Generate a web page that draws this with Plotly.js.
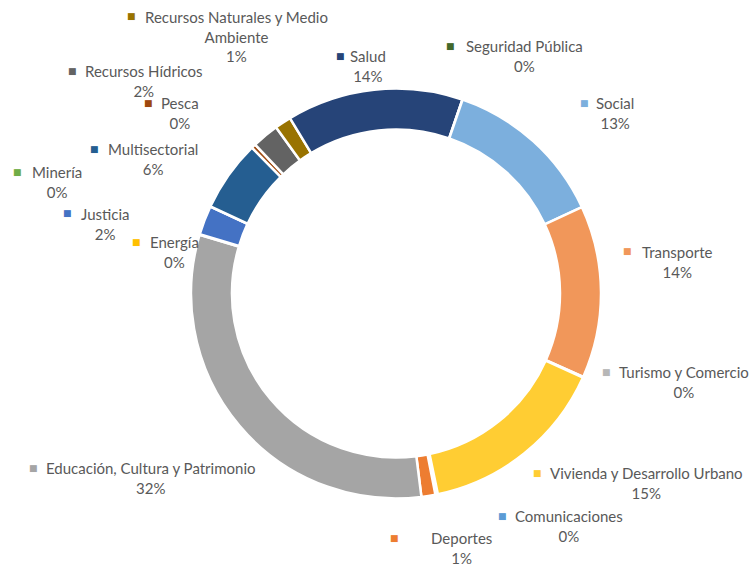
<!DOCTYPE html>
<html>
<head>
<meta charset="utf-8">
<script src="https://cdn.plot.ly/plotly-3.0.1.min.js"></script>
<style>html,body{margin:0;padding:0;background:#fff;}#chart{width:751px;height:565px;}</style>
</head>
<body>
<div id="chart"></div>
<script>
// Data (alphabetical order, as in the source series)
const categories = [
  "Comunicaciones", "Deportes", "Educación, Cultura y Patrimonio", "Energía",
  "Justicia", "Minería", "Multisectorial", "Pesca", "Recursos Hídricos",
  "Recursos Naturales y Medio Ambiente", "Salud", "Seguridad Pública", "Social",
  "Transporte", "Turismo y Comercio", "Vivienda y Desarrollo Urbano"
];
const shares = [0.2, 1.1, 31.6, 0.05, 2.3, 0.02, 5.6, 0.35, 2.1, 1.3, 13.9, 0.02, 12.8, 13.6, 0.05, 15.0];

// Styles
const sliceColors = [
  "#5B9BD5", "#ED7D31", "#A5A5A5", "#FFC000", "#4472C4", "#70AD47", "#255E91", "#9E480E",
  "#636363", "#997300", "#264478", "#43682B", "#7CAFDD", "#F1975A", "#B7B7B7", "#FFCD33"
];
// Label display text (line-broken names) and their placement (pixels: text centre, key square)
const labelLines = {
  "Recursos Naturales y Medio Ambiente": "Recursos Naturales y Medio<br>Ambiente"
};
const labelPos = {
  "Comunicaciones": {cx: 569, cy: 526, kx: 502, ky: 516},
  "Deportes": {cx: 461, cy: 548, kx: 394, ky: 538},
  "Educación, Cultura y Patrimonio": {cx: 151, cy: 478, kx: 33, ky: 468},
  "Energía": {cx: 174, cy: 252.5, kx: 136, ky: 242},
  "Justicia": {cx: 105, cy: 223.5, kx: 67, ky: 213},
  "Minería": {cx: 57, cy: 182, kx: 17, ky: 172},
  "Multisectorial": {cx: 153, cy: 159, kx: 94, ky: 149},
  "Pesca": {cx: 180, cy: 113.5, kx: 148, ky: 103},
  "Recursos Hídricos": {cx: 144, cy: 81, kx: 72, ky: 71},
  "Recursos Naturales y Medio Ambiente": {cx: 236, cy: 36, kx: 131, ky: 16},
  "Salud": {cx: 368, cy: 66, kx: 340, ky: 56},
  "Seguridad Pública": {cx: 524, cy: 56.5, kx: 450, ky: 46},
  "Social": {cx: 615, cy: 113.5, kx: 584, ky: 103},
  "Transporte": {cx: 677, cy: 261.5, kx: 627, ky: 251},
  "Turismo y Comercio": {cx: 684, cy: 382, kx: 606, ky: 372},
  "Vivienda y Desarrollo Urbano": {cx: 646, cy: 483, kx: 537, ky: 473}
};

const W = 751, H = 565;
const cxC = 396, cyC = 293.5, R = 205;
const total = shares.reduce((a, b) => a + b, 0);

const trace = {
  type: "pie",
  labels: categories,
  values: shares,
  sort: false,
  direction: "clockwise",
  rotation: 168.2,
  hole: 0.8,
  textinfo: "none",
  marker: {colors: sliceColors, line: {color: "#ffffff", width: 2.5}},
  domain: {x: [(cxC - R) / W, (cxC + R) / W], y: [(H - cyC - R) / H, (H - cyC + R) / H]},
  showlegend: false,
  automargin: false
};

const annotations = [];
categories.forEach((c, i) => {
  const p = labelPos[c];
  const pct = Math.round(shares[i] / total * 100) + "%";
  const name = labelLines[c] || c;
  annotations.push({
    xref: "paper", yref: "paper", x: p.cx / W, y: 1 - p.cy / H,
    xanchor: "center", yanchor: "middle", showarrow: false, align: "center",
    text: name + "<br>" + pct,
    font: {family: "Lato, 'Open Sans', sans-serif", size: 15, color: "#595959"}
  });
  annotations.push({
    xref: "paper", yref: "paper", x: p.kx / W, y: 1 - p.ky / H,
    xanchor: "center", yanchor: "middle", showarrow: false,
    text: "■",
    font: {family: "DejaVu Sans", size: 9, color: sliceColors[i]}
  });
});

const layout = {
  width: W, height: H,
  margin: {l: 0, r: 0, t: 0, b: 0},
  paper_bgcolor: "#ffffff",
  showlegend: false,
  annotations: annotations
};

Plotly.newPlot("chart", [trace], layout, {displayModeBar: false, staticPlot: true});
</script>
</body>
</html>
